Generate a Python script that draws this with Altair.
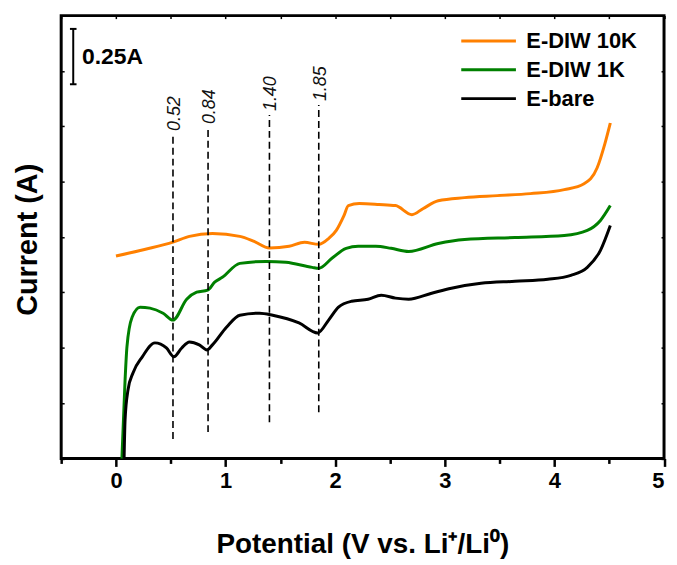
import altair as alt
import pandas as pd

# ---------------- data ----------------
series_names = ["E-DIW 10K", "E-DIW 1K", "E-bare"]
series_colors = ["#FF8000", "#008000", "#000000"]

x_10k = [0.0, 0.26, 0.52, 0.67, 0.88, 1.13, 1.26, 1.40, 1.58, 1.72, 1.85, 1.94, 2.01,
         2.08, 2.12, 2.22, 2.40, 2.55, 2.70, 2.80, 2.94, 3.18, 3.48, 3.78, 4.09, 4.27,
         4.39, 4.46, 4.51]
y_10k = [0.914, 0.944, 0.977, 1.003, 1.016, 1.003, 0.980, 0.950, 0.958, 0.976, 0.967,
         0.993, 1.030, 1.097, 1.142, 1.151, 1.147, 1.142, 1.101, 1.128, 1.164, 1.178,
         1.187, 1.196, 1.214, 1.241, 1.313, 1.421, 1.515]

x_1k = [0.054, 0.083, 0.10, 0.147, 0.22, 0.31, 0.43, 0.52, 0.645, 0.736, 0.836, 0.90,
        0.97, 1.13, 1.37, 1.55, 1.79, 1.85, 1.97, 2.10, 2.21, 2.37, 2.51, 2.67, 2.94,
        3.18, 3.64, 4.09, 4.30, 4.42, 4.51]
y_1k = [0.0, 0.355, 0.504, 0.638, 0.683, 0.679, 0.656, 0.625, 0.719, 0.751, 0.760, 0.796,
        0.818, 0.881, 0.890, 0.886, 0.863, 0.859, 0.904, 0.949, 0.958, 0.958, 0.949, 0.935,
        0.971, 0.989, 0.998, 1.007, 1.030, 1.075, 1.142]

x_bare = [0.074, 0.083, 0.11, 0.156, 0.24, 0.355, 0.46, 0.528, 0.60, 0.67, 0.76, 0.83,
          0.88, 1.01, 1.13, 1.31, 1.43, 1.67, 1.84, 1.94, 2.03, 2.15, 2.30, 2.42, 2.55,
          2.67, 2.88, 3.06, 3.33, 3.64, 3.94, 4.15, 4.30, 4.42, 4.51]
y_bare = [0.0, 0.175, 0.310, 0.387, 0.459, 0.522, 0.499, 0.459, 0.499, 0.526, 0.513, 0.490,
          0.513, 0.594, 0.647, 0.656, 0.647, 0.612, 0.567, 0.625, 0.683, 0.710, 0.719, 0.737,
          0.724, 0.719, 0.746, 0.769, 0.791, 0.800, 0.809, 0.827, 0.863, 0.940, 1.052]

# marker potentials (dashed lines) and their labels
mark_x = [0.52, 0.84, 1.40, 1.85]
mark_labels = ["0.52", "0.84", "1.40", "1.85"]
mark_bottom = [0.088, 0.119, 0.164, 0.209]
mark_top = [1.461, 1.493, 1.551, 1.596]
mark_label_y = [1.479, 1.510, 1.569, 1.614]

# scale bar (0.25 A)
bar_x = [-0.39]
bar_y0 = [1.69]
bar_y1 = [1.94]
bar_caps_y = [1.69, 1.94]
bar_cap_x0 = -0.42
bar_cap_x1 = -0.36
bar_text = ["0.25A"]
bar_text_x = [-0.31]
bar_text_y = [1.815]

x_ticks = [-0.5, 0, 0.5, 1, 1.5, 2, 2.5, 3, 3.5, 4, 4.5, 5]
y_ticks = [0, 0.25, 0.5, 0.75, 1.0, 1.25, 1.5, 1.75, 2.0]

# ---------------- tables ----------------
rows = []
for name, xs, ys in [(series_names[0], x_10k, y_10k),
                     (series_names[1], x_1k, y_1k),
                     (series_names[2], x_bare, y_bare)]:
    for xv, yv in zip(xs, ys):
        rows.append({"series": name, "x": xv, "y": yv})
curves_df = pd.DataFrame(rows)

marks_df = pd.DataFrame({"x": mark_x, "y0": mark_bottom, "y1": mark_top,
                         "ly": mark_label_y, "label": mark_labels})
bar_df = pd.DataFrame({"x": bar_x, "y0": bar_y0, "y1": bar_y1})
caps_df = pd.DataFrame({"y": bar_caps_y, "x0": [bar_cap_x0] * 2, "x1": [bar_cap_x1] * 2})
bar_text_df = pd.DataFrame({"x": bar_text_x, "y": bar_text_y, "t": bar_text})

FONT = "Liberation Sans"
xscale = alt.Scale(domain=[-0.5, 5], nice=False, zero=False)
yscale = alt.Scale(domain=[0, 2], nice=False, zero=False)

curves = alt.Chart(curves_df).mark_line(strokeWidth=3, interpolate="monotone").encode(
    x=alt.X("x:Q", scale=xscale, axis=alt.Axis(
        orient="bottom", values=x_ticks, grid=False, domain=False,
        labelExpr="datum.value % 1 === 0 ? format(datum.value, 'd') : ''",
        tickSize={"condition": {"test": "datum.value % 1 === 0", "value": 8}, "value": 5},
        tickWidth=2.5, tickColor="black", labelPadding=4,
        labelFont=FONT, labelFontSize=22, labelFontWeight="bold", labelColor="black",
        title="Potential (V vs. Li⁺/Li⁰)", titleFont=FONT, titleFontSize=28,
        titleFontWeight="bold", titleColor="black", titleX=303, titleY=95,
        titleBaseline="alphabetic", titleAnchor="middle")),
    y=alt.Y("y:Q", scale=yscale, axis=alt.Axis(
        orient="left", values=y_ticks, grid=False, domain=False, labels=False,
        tickSize=3, tickWidth=1.5, tickColor="black", offset=-3,
        title="Current (A)", titleFont=FONT, titleFontSize=29, titleFontWeight="bold",
        titleColor="black", titleX=-28, titleY=225, titleBaseline="alphabetic",
        titleAngle=270, titleAlign="center")),
    color=alt.Color("series:N", scale=alt.Scale(domain=series_names, range=series_colors),
                    legend=alt.Legend(
                        title=None, orient="none", legendX=401, legendY=12,
                        symbolType="stroke", symbolSize=3025, symbolStrokeWidth=3,
                        clipHeight=27, rowPadding=2, labelOffset=9, padding=0,
                        labelFont=FONT, labelFontSize=22, labelFontWeight="bold",
                        labelColor="black")),
)

dashes = alt.Chart(marks_df).mark_rule(strokeDash=[7, 4], strokeWidth=1.6, color="black").encode(
    x=alt.X("x:Q", scale=xscale, axis=alt.Axis(
        orient="top", values=x_ticks, labels=False, grid=False, domain=False,
        tickSize=3, tickWidth=1.5, tickColor="black", offset=-3, title=None)),
    y=alt.Y("y0:Q", scale=yscale, axis=alt.Axis(
        orient="right", values=y_ticks, labels=False, grid=False, domain=False,
        tickSize=3, tickWidth=1.5, tickColor="black", offset=-3, title=None)),
    y2="y1:Q",
)

dash_labels = alt.Chart(marks_df).mark_text(
    angle=270, align="left", baseline="middle", font=FONT, fontSize=18,
    fontStyle="italic", color="#111111", dy=2).encode(
    x=alt.X("x:Q", scale=xscale, axis=None),
    y=alt.Y("ly:Q", scale=yscale, axis=None),
    text="label:N",
)

bar = alt.Chart(bar_df).mark_rule(strokeWidth=2, color="black").encode(
    x=alt.X("x:Q", scale=xscale, axis=None),
    y=alt.Y("y0:Q", scale=yscale, axis=None),
    y2="y1:Q",
)
caps = alt.Chart(caps_df).mark_rule(strokeWidth=2, color="black").encode(
    x=alt.X("x0:Q", scale=xscale, axis=None),
    x2="x1:Q",
    y=alt.Y("y:Q", scale=yscale, axis=None),
)
bar_label = alt.Chart(bar_text_df).mark_text(
    align="left", baseline="middle", font=FONT, fontSize=23, fontWeight="bold",
    color="black").encode(
    x=alt.X("x:Q", scale=xscale, axis=None),
    y=alt.Y("y:Q", scale=yscale, axis=None),
    text="t:N",
)

chart = alt.layer(curves, dashes, dash_labels, bar, caps, bar_label).resolve_axis(
    x="independent", y="independent"
).properties(
    width=606.5, height=445.5,
    autosize=alt.AutoSizeParams(type="none"),
    padding={"left": 53.5, "top": 6, "right": 5, "bottom": 100},
    background="white",
).configure_view(stroke="black", strokeWidth=3)

chart.save("out.html", embed_options={"renderer": "svg", "actions": False})
